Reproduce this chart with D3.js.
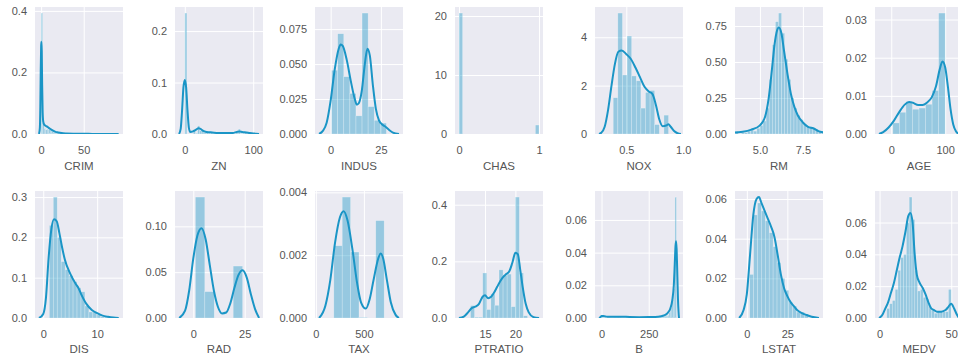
<!DOCTYPE html>
<html>
<head>
<meta charset="utf-8">
<script src="https://cdn.jsdelivr.net/npm/d3@7/dist/d3.min.js"></script>
<style>
  body { margin: 0; background: #fff; }
  text { font-family: "Liberation Sans", Arial, sans-serif; }
</style>
</head>
<body>
<svg id="chart" width="958" height="358"></svg>
<script>
// ---- donnees (histogramme densite + kde) ----
const names = ["CRIM","ZN","INDUS","CHAS","NOX","RM","AGE","DIS","RAD","TAX","PTRATIO","B","LSTAT","MEDV"];

// [min, max] des valeurs de chaque variable (bords des classes)
const histRanges = [[0.006,88.98],[0,100],[0.46,27.74],[0,1],[0.385,0.871],[3.561,8.78],[2.9,100],
                    [1.13,12.13],[1,24],[187,711],[12.6,22],[0.32,396.9],[1.73,37.97],[5,50]];

// bornes de l'axe x
const xDomains = [[-7.2,96.1],[-14.3,114.3],[-7.8,36.0],[-0.05,1.05],[0.225,0.998],[3.55,8.67],[-30.2,133.1],
                  [-1.53,14.79],[-8.9,33.9],[-8.7,906.9],[10.05,24.55],[-34.5,431.7],[-7.3,47.0],[-3.2,58.2]];

const xTickLabels = [["0","50"],["0","100"],["0","25"],["0","1"],["0.5","1.0"],["5.0","7.5"],["0","100"],
                     ["0","10"],["0","25"],["0","500"],["15","20"],["0","250"],["0","25"],["0","50"]];
const yTickLabels = [["0.0","0.2","0.4"],["0.0","0.1","0.2"],["0.000","0.025","0.050","0.075"],["0","10","20"],
                     ["0","2","4"],["0.00","0.25","0.50","0.75"],["0.00","0.01","0.02","0.03"],
                     ["0.0","0.1","0.2","0.3"],["0.00","0.05","0.10"],["0.000","0.002","0.004"],["0.0","0.2","0.4"],
                     ["0.00","0.02","0.04","0.06"],["0.00","0.02","0.04","0.06"],["0.00","0.02","0.04","0.06"]];

// hauteurs des barres (densite)
const crimHist = [0.393,0.038,0.018,0.014,0.016,0.015,0.012,0.010,0.009,0.006,
                  0.004,0.004,0.002,0.002,0.001,0.002,0.001,0.001,0,0.001,
                  0,0.001,0,0.001,0.0005,0,0,0,0,0,
                  0,0,0,0,0,0,0,0.001,0,0,
                  0,0.001,0,0,0,0,0,0,0,0.001];
const znHist = [0.235,0,0,0,0.0063,0.0013,0.0158,0.0063,0.0082,0.0038,0.0044,0.0019,0.0044,0,0.0038,0,
                0.0019,0.0019,0,0.0025,0,0,0.0019,0,0.0019,0.0095,0.0013,0.0013,0.0032,0,0.0025,0.0006];
const indusHist = [0.0456,0.0717,0.041,0.029,0.013,0.0865,0.0196,0.0098,0.0078];
const chasHist = [20.5,0,0,0,0,0,0,0,0,0,0,0,0,0,0,0,0,0,0,0,0,1.52];
const noxHist = [1.5,5.0,2.44,4.05,2.4,2.2,1.07,1.72,1.8,0.39,0,0.78];
const rmHist = [0.02,0,0.01,0.01,0.02,0.03,0.02,0.04,0.06,0.09,0.18,0.38,0.62,0.78,0.84,
                0.70,0.52,0.38,0.25,0.18,0.13,0.10,0.07,0.05,0.05,0.04,0.03,0.02,0.02];
const ageHist = [0.0029,0.0057,0.0085,0.0065,0.0068,0.0078,0.0114,0.0317];
const disHist = [0.23,0.30,0.20,0.14,0.12,0.105,0.09,0.075,0.065,0.03,0.015,0.015,0.008,0.003,0.003];
const radHist = [0.132,0.0288,0,0,0.0567];
const taxHist = [0.0023,0.00385,0.0021,0.00002,0,0.0031];
const ptratioHist = [0.044,0.003,0.003,0.159,0.03,0.085,0.045,0.17,0.15,0.155,0.04,0.427,0.159,0.008];
const bHist = [0.0017,0.0007,0.0007,0.0002,0.0005,0.0005,0.0002,0.0002,0.0005,0.0005,
               0.0005,0.0007,0.0005,0.0002,0.0002,0.0002,0.0005,0.0002,0.0002,0.0005,
               0.0002,0.0002,0.0005,0.0002,0.0002,0.0002,0.0005,0.0002,0.0005,0.0002,
               0.0005,0.0002,0.0005,0.0005,0.0002,0.0005,0.0007,0.0005,0.0007,0.001,
               0.0007,0.001,0.0012,0.0012,0.0017,0.0035,0.006,0.011,0.018,0.074];
const lstatHist = [0.022,0.052,0.058,0.054,0.049,0.043,0.036,0.028,0.02,0.014,0.008,0.006,0.003,0.003,0.002];
const medvHist = [0.006,0.009,0.011,0.018,0.030,0.038,0.040,0.060,0.076,0.062,0.030,0.017,
                  0.018,0.013,0.012,0.007,0.005,0.003,0.004,0.004,0.004,0.004,0.018];

// courbes kde : [x, densite]
const crimKde = [[-2.5,0],[-1.5,0.02],[-1,0.08],[-0.5,0.2],[0,0.285],[0.3,0.3],[0.7,0.27],[1.2,0.16],[1.8,0.07],
                 [2.5,0.04],[3.5,0.031],[5,0.027],[7,0.024],[9,0.02],[11,0.016],[14,0.011],[17,0.007],[20,0.005],
                 [24,0.003],[30,0.0018],[40,0.001],[50,0.0006],[60,0.0004],[70,0.0004],[80,0.0003],[91,0]];
const znKde = [[-8.5,0],[-6,0.01],[-4,0.045],[-2,0.09],[0,0.105],[2,0.09],[4,0.045],[6,0.012],[8,0.004],[12,0.005],
               [16,0.008],[20,0.011],[23,0.01],[27,0.006],[32,0.004],[40,0.003],[50,0.002],[60,0.002],[70,0.002],
               [76,0.004],[80,0.005],[84,0.004],[90,0.003],[95,0.002],[100,0.0012],[104,0.0005],[108.5,0]];
const indusKde = [[-5.8,0],[-4,0.002],[-2,0.008],[0,0.024],[2,0.046],[4,0.061],[5,0.064],[6,0.063],[8,0.053],
                  [10,0.038],[12,0.025],[13,0.021],[14,0.022],[15.5,0.031],[17,0.05],[18.3,0.061],[19.5,0.056],
                  [21,0.035],[22.5,0.018],[24,0.01],[25.5,0.007],[27,0.0055],[29,0.003],[31,0.001],[34,0]];
const chasKde = [];
const noxKde = [[0.26,0],[0.28,0.05],[0.31,0.3],[0.34,1.0],[0.37,2.0],[0.40,2.9],[0.43,3.4],[0.46,3.45],[0.50,3.3],
                [0.54,3.1],[0.58,2.75],[0.62,2.35],[0.66,1.95],[0.70,1.75],[0.73,1.65],[0.76,1.2],[0.79,0.6],
                [0.82,0.32],[0.85,0.35],[0.87,0.4],[0.89,0.3],[0.92,0.12],[0.95,0.03],[0.98,0]];
const rmKde = [[3.06,0],[3.55,0.01],[4.0,0.015],[4.5,0.03],[5.0,0.06],[5.3,0.12],[5.5,0.24],[5.7,0.45],[5.85,0.62],
               [6.0,0.72],[6.1,0.74],[6.25,0.70],[6.4,0.58],[6.6,0.42],[6.8,0.28],[7.0,0.19],[7.2,0.13],[7.5,0.08],
               [7.8,0.05],[8.1,0.04],[8.4,0.02],[8.8,0.01],[9.28,0]];
const ageKde = [[-22.8,0],[-15,0.0005],[-5,0.0017],[5,0.0035],[15,0.0058],[25,0.0077],[33,0.0084],[40,0.0082],
                [50,0.0076],[58,0.0076],[66,0.0082],[75,0.0096],[83,0.0125],[90,0.017],[95,0.019],[100,0.0175],
                [105,0.0125],[110,0.0065],[115,0.0025],[120,0.0007],[125.7,0]];
const disKde = [[-0.8,0],[0,0.01],[0.5,0.05],[1.0,0.15],[1.5,0.22],[2.0,0.245],[2.5,0.24],[3.0,0.21],[3.5,0.175],
                [4.0,0.145],[5,0.11],[6,0.085],[6.5,0.075],[7,0.06],[8,0.035],[9,0.02],[10,0.012],[11,0.006],
                [12,0.003],[13,0.001],[14,0]];
const radKde = [[-6.9,0],[-4,0.008],[-2,0.03],[0,0.065],[2,0.09],[4,0.098],[6,0.086],[8,0.058],[10,0.03],[12,0.012],
                [14,0.005],[16,0.006],[18,0.016],[20,0.033],[22,0.047],[24,0.052],[26,0.044],[28,0.026],[30,0.01],[32,0]];
const taxKde = [[33,0],[100,0.0004],[150,0.0012],[200,0.0024],[250,0.0032],[290,0.0034],[330,0.0031],[380,0.0022],
                [430,0.0011],[470,0.0005],[520,0.0003],[560,0.0006],[600,0.0012],[650,0.0019],[675,0.00205],
                [700,0.0019],[740,0.0012],[780,0.0005],[830,0.0001],[865,0]];
const ptratioKde = [[10.7,0],[11.5,0.005],[12.2,0.02],[12.8,0.035],[13.4,0.04],[14.0,0.05],[14.6,0.075],[15.0,0.08],
                    [15.5,0.07],[16.0,0.075],[16.5,0.09],[17.0,0.11],[17.5,0.13],[18.0,0.145],[18.5,0.155],
                    [19.0,0.165],[19.5,0.195],[20.0,0.23],[20.4,0.225],[20.8,0.17],[21.2,0.11],[21.7,0.05],
                    [22.2,0.02],[23.0,0.003],[23.9,0]];
const bKde = [[-13,0],[-5,0.0006],[0,0.0012],[10,0.0012],[30,0.0008],[60,0.0007],[100,0.0008],[150,0.0006],
              [200,0.0005],[250,0.0006],[300,0.0008],[330,0.0015],[350,0.003],[365,0.006],[375,0.011],[383,0.02],
              [388,0.033],[392,0.044],[395,0.047],[398,0.042],[402,0.025],[405,0.012],[408,0.004],[410.5,0]];
const lstatKde = [[-4.8,0],[-2,0.004],[0,0.012],[2,0.032],[4,0.052],[6,0.06],[7.5,0.061],[9,0.058],[11,0.054],
                  [13,0.05],[15,0.046],[17,0.041],[19,0.032],[21,0.022],[23,0.015],[25,0.011],[27,0.008],[29,0.006],
                  [31,0.004],[34,0.0025],[37,0.0015],[40,0.0006],[44.5,0]];
const medvKde = [[-0.4,0],[2,0.002],[4,0.006],[6,0.01],[8,0.016],[10,0.022],[12,0.03],[14,0.038],[16,0.045],
                 [18,0.054],[20,0.064],[21.5,0.066],[23,0.06],[24.5,0.04],[26,0.027],[28,0.022],[30,0.019],[32,0.015],
                 [34,0.01],[36,0.006],[38,0.005],[40,0.004],[43,0.004],[46,0.005],[48,0.007],[50,0.009],[52,0.006],
                 [54,0.002],[55.4,0]];

const hists = [crimHist,znHist,indusHist,chasHist,noxHist,rmHist,ageHist,disHist,radHist,taxHist,ptratioHist,bHist,lstatHist,medvHist];
const kdes = [crimKde,znKde,indusKde,chasKde,noxKde,rmKde,ageKde,disKde,radKde,taxKde,ptratioKde,bKde,lstatKde,medvKde];

// ---- mise en page ----
const COL_L = 35, COL_STEP = 140, PW = 88;
const ROWS = [{top: 7, bottom: 134}, {top: 191, bottom: 318}];
const BG = "#eaeaf2";
const COLOR = "#1a95c6";
const TXT = "#555555";

const svg = d3.select("#chart");

names.forEach(function(name, i) {
  const col = i % 7, row = Math.floor(i / 7);
  const x0 = COL_L + col * COL_STEP;
  const r = ROWS[row];

  const hist = hists[i], kde = kdes[i];
  const yMax = 1.05 * Math.max(d3.max(hist), d3.max(kde, d => d[1]) || 0);

  const x = d3.scaleLinear().domain(xDomains[i]).range([x0, x0 + PW]);
  const y = d3.scaleLinear().domain([0, yMax]).range([r.bottom, r.top]);

  const g = svg.append("g");
  g.append("clipPath").attr("id", "clip" + i)
    .append("rect").attr("x", x0).attr("y", r.top).attr("width", PW).attr("height", r.bottom - r.top);

  g.append("rect")
    .attr("x", x0).attr("y", r.top)
    .attr("width", PW).attr("height", r.bottom - r.top)
    .attr("fill", BG);

  // axes : grille blanche + etiquettes
  const yTicks = yTickLabels[i];
  const ax = g.append("g").attr("transform", "translate(" + x0 + ",0)")
    .call(d3.axisLeft(y).tickValues(yTicks.map(Number)).tickSize(-PW).tickPadding(8)
      .tickFormat((d, k) => yTicks[k]));
  const xTicks = xTickLabels[i];
  const bx = g.append("g").attr("transform", "translate(0," + r.bottom + ")")
    .call(d3.axisBottom(x).tickValues(xTicks.map(Number)).tickSize(-(r.bottom - r.top)).tickPadding(12)
      .tickFormat((d, k) => xTicks[k]));
  [ax, bx].forEach(a => {
    a.select(".domain").remove();
    a.selectAll(".tick line").attr("stroke", "#fff").attr("stroke-width", 1);
    a.selectAll(".tick text").attr("fill", TXT).attr("font-size", 11)
      .attr("font-family", "'Liberation Sans', Arial, sans-serif");
  });

  const plot = g.append("g").attr("clip-path", "url(#clip" + i + ")");

  // barres
  const lo = histRanges[i][0], hi = histRanges[i][1];
  const w = (hi - lo) / hist.length;
  plot.selectAll("rect.bar").data(hist.map((h, k) => ({a: lo + k * w, b: lo + (k + 1) * w, h: h})).filter(d => d.h > 0))
    .enter().append("rect").attr("class", "bar")
    .attr("x", d => x(d.a))
    .attr("width", d => Math.max(0.6, x(d.b) - x(d.a)))
    .attr("y", d => y(d.h))
    .attr("height", d => r.bottom - y(d.h))
    .attr("fill", COLOR).attr("fill-opacity", 0.4)
    .attr("stroke", "#fff").attr("stroke-opacity", 0.4).attr("stroke-width", 0.6);

  // kde
  if (kde.length) {
    plot.append("path")
      .datum(kde)
      .attr("fill", "none")
      .attr("stroke", COLOR)
      .attr("stroke-width", 2)
      .attr("stroke-linejoin", "round")
      .attr("d", d3.line().x(d => x(d[0])).y(d => y(d[1])).curve(d3.curveMonotoneX));
  }

  // nom de la variable
  g.append("text")
    .attr("x", x0 + PW / 2)
    .attr("y", r.bottom + (row === 0 ? 36 : 35))
    .attr("text-anchor", "middle")
    .attr("fill", TXT).attr("font-size", 11.5)
    .text(name);
});
</script>
</body>
</html>
